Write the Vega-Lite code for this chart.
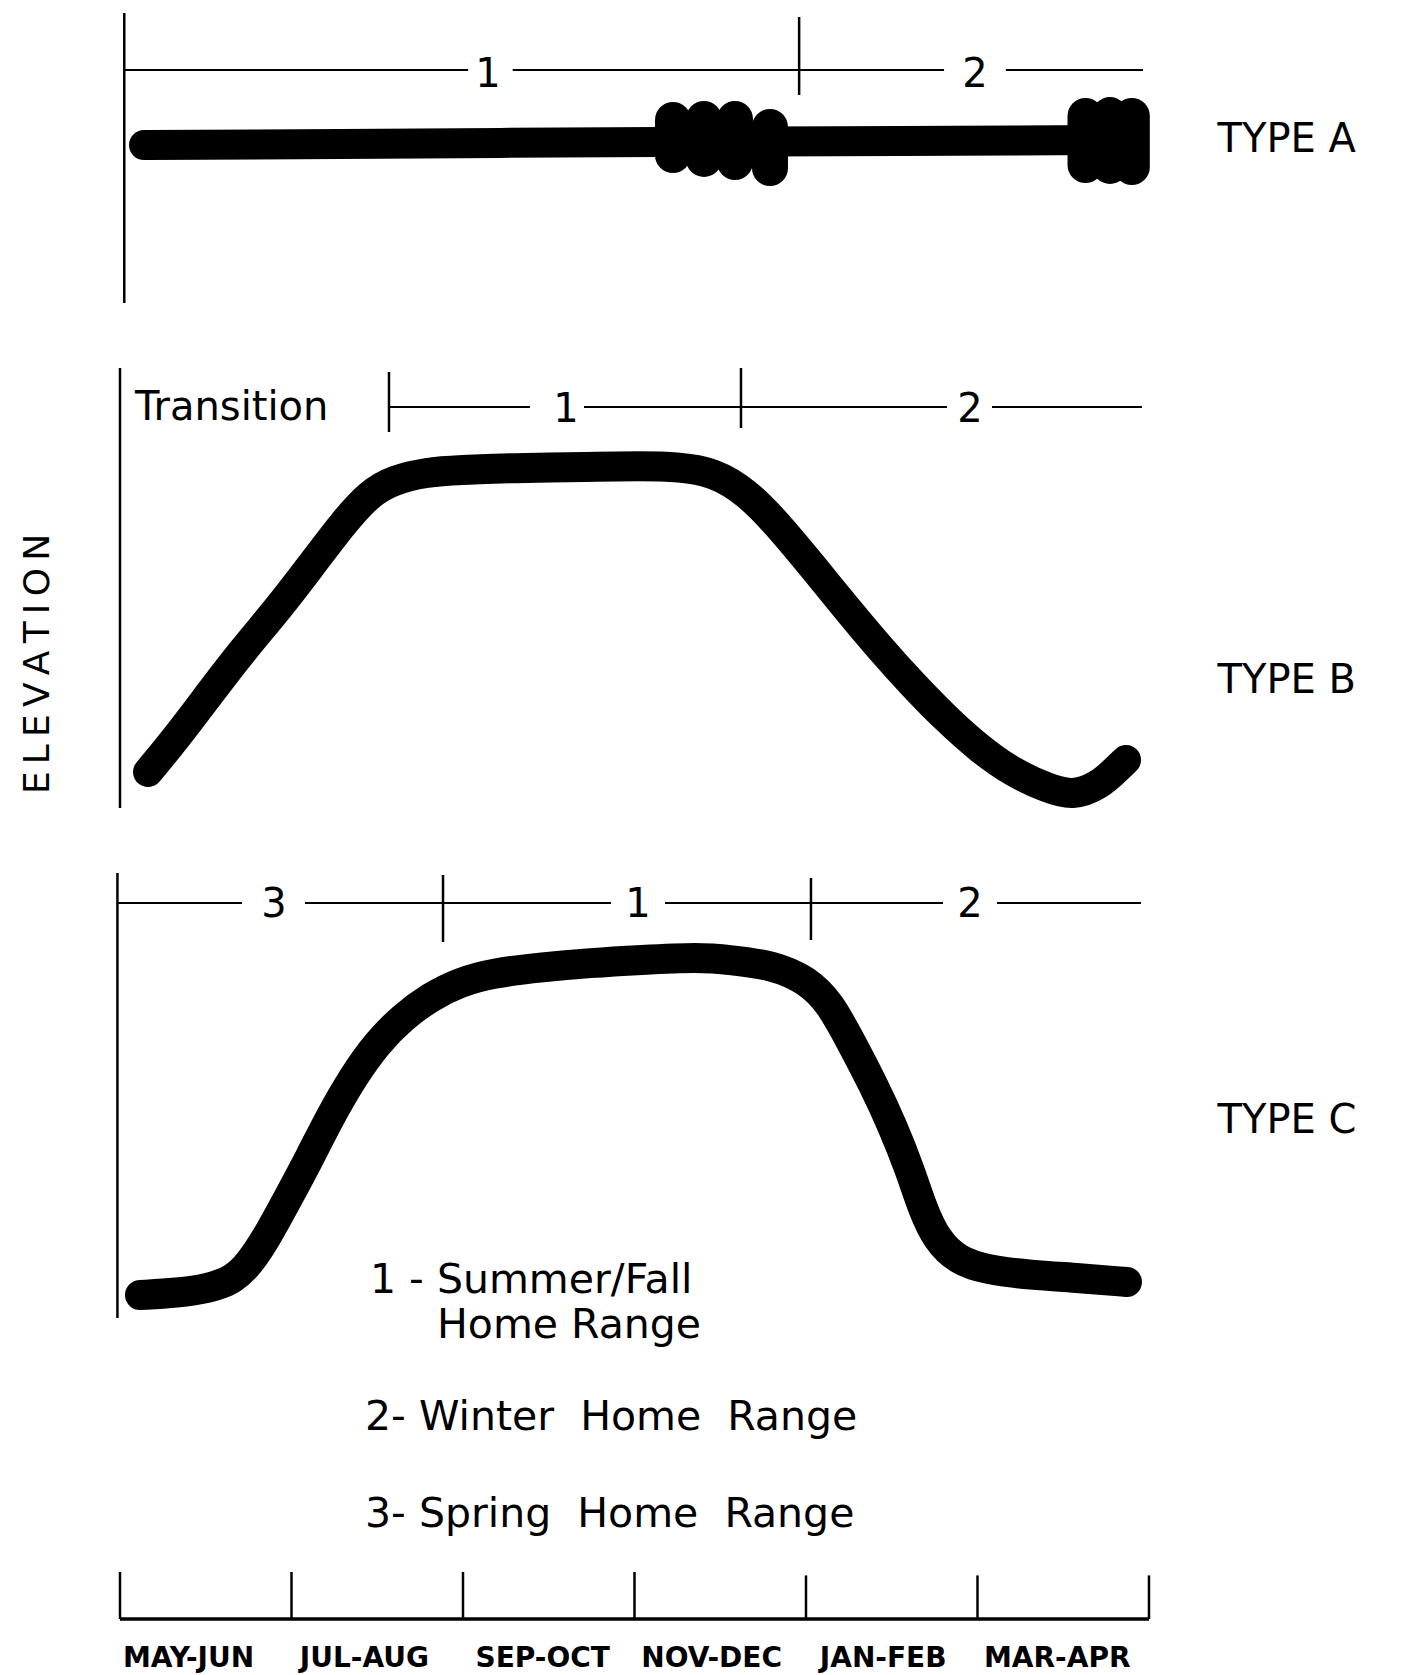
{
  "$schema": "https://vega.github.io/schema/vega-lite/v6.json",
  "padding": 0,
  "spacing": 0,
  "background": "white",
  "config": {"view": {"stroke": null}, "text": {"font": "DejaVu Sans", "color": "black"}},
  "datasets": {
    "typeA": [
      {"kind": "frame", "x": 0.05, "y": 96.06, "x2": 0.05, "y2": 8.18},
      {"kind": "frame", "x": 7.92, "y": 94.85, "x2": 7.92, "y2": 71.21},
      {"kind": "bracket", "x": 0.05, "y": 78.79, "x2": 4.06, "y2": 78.79},
      {"kind": "bracket", "x": 4.58, "y": 78.79, "x2": 9.61, "y2": 78.79},
      {"kind": "bracket", "x": 10.33, "y": 78.79, "x2": 11.93, "y2": 78.79},
      {"kind": "num", "x": 4.29, "y": 77.3, "label": "1"},
      {"kind": "num", "x": 9.97, "y": 77.3, "label": "2"},
      {"kind": "curve", "x": 0.28, "y": 56.06},
      {"kind": "curve", "x": 2.1, "y": 56.3},
      {"kind": "curve", "x": 4.43, "y": 56.7},
      {"kind": "curve", "x": 6.3, "y": 56.97},
      {"kind": "curve", "x": 9.1, "y": 57.27},
      {"kind": "curve", "x": 11.43, "y": 57.58},
      {"kind": "lobe", "x": 6.449, "y": 63.64, "x2": 6.449, "y2": 53.03},
      {"kind": "lobe", "x": 6.81, "y": 63.94, "x2": 6.81, "y2": 51.82},
      {"kind": "lobe", "x": 7.172, "y": 63.94, "x2": 7.172, "y2": 50.91},
      {"kind": "lobe", "x": 7.58, "y": 61.52, "x2": 7.58, "y2": 49.09},
      {"kind": "lobe", "x": 11.26, "y": 64.85, "x2": 11.26, "y2": 50.0},
      {"kind": "lobe", "x": 11.545, "y": 65.15, "x2": 11.545, "y2": 49.7},
      {"kind": "lobe", "x": 11.8, "y": 64.85, "x2": 11.8, "y2": 49.39},
      {"kind": "type", "x": 12.8, "y": 57.58, "label": "TYPE A"}
    ],
    "typeB": [
      {"kind": "frame", "x": 0, "y": 92.55, "x2": 0, "y2": 6.27},
      {"kind": "frame", "x": 3.137, "y": 91.76, "x2": 3.137, "y2": 80.0},
      {"kind": "frame", "x": 7.242, "y": 92.55, "x2": 7.242, "y2": 80.78},
      {"kind": "bracket", "x": 3.137, "y": 84.9, "x2": 4.781, "y2": 84.9},
      {"kind": "bracket", "x": 5.411, "y": 84.9, "x2": 9.644, "y2": 84.9},
      {"kind": "bracket", "x": 10.169, "y": 84.9, "x2": 11.918, "y2": 84.9},
      {"kind": "num", "x": 5.201, "y": 84.4, "label": "1"},
      {"kind": "num", "x": 9.913, "y": 84.4, "label": "2"},
      {"kind": "note", "x": 0.175, "y": 82.35, "label": "Transition"},
      {"kind": "elev", "x": -0.956, "y": 34.51, "label": "E\u2009L\u2009E\u2009V\u2009A\u2009T\u2009I\u2009O\u2009N"},
      {"kind": "curve", "x": 0.327, "y": 13.33},
      {"kind": "curve", "x": 0.665, "y": 20.2},
      {"kind": "curve", "x": 1.05, "y": 28.82},
      {"kind": "curve", "x": 1.434, "y": 37.25},
      {"kind": "curve", "x": 1.831, "y": 45.1},
      {"kind": "curve", "x": 2.216, "y": 53.53},
      {"kind": "curve", "x": 2.601, "y": 62.16},
      {"kind": "curve", "x": 2.915, "y": 68.04},
      {"kind": "curve", "x": 3.184, "y": 70.59},
      {"kind": "curve", "x": 3.58, "y": 72.16},
      {"kind": "curve", "x": 3.965, "y": 72.55},
      {"kind": "curve", "x": 4.548, "y": 72.94},
      {"kind": "curve", "x": 5.481, "y": 73.14},
      {"kind": "curve", "x": 6.064, "y": 73.33},
      {"kind": "curve", "x": 6.531, "y": 73.14},
      {"kind": "curve", "x": 6.915, "y": 72.16},
      {"kind": "curve", "x": 7.312, "y": 68.24},
      {"kind": "curve", "x": 7.697, "y": 61.37},
      {"kind": "curve", "x": 8.082, "y": 53.53},
      {"kind": "curve", "x": 8.478, "y": 45.3},
      {"kind": "curve", "x": 8.863, "y": 37.6},
      {"kind": "curve", "x": 9.248, "y": 30.4},
      {"kind": "curve", "x": 9.644, "y": 23.6},
      {"kind": "curve", "x": 10.029, "y": 17.8},
      {"kind": "curve", "x": 10.414, "y": 13.2},
      {"kind": "curve", "x": 10.81, "y": 10.2},
      {"kind": "curve", "x": 11.114, "y": 8.6},
      {"kind": "curve", "x": 11.429, "y": 10.8},
      {"kind": "curve", "x": 11.627, "y": 14.0},
      {"kind": "curve", "x": 11.732, "y": 15.69},
      {"kind": "type", "x": 12.8, "y": 31.18, "label": "TYPE B"}
    ],
    "typeC": [
      {"kind": "frame", "x": -0.03, "y": 95.38, "x2": -0.03, "y2": 33.15},
      {"kind": "frame", "x": 3.767, "y": 95.1, "x2": 3.767, "y2": 85.73},
      {"kind": "frame", "x": 8.058, "y": 94.69, "x2": 8.058, "y2": 86.01},
      {"kind": "bracket", "x": -0.03, "y": 91.19, "x2": 1.423, "y2": 91.19},
      {"kind": "bracket", "x": 2.157, "y": 91.19, "x2": 5.726, "y2": 91.19},
      {"kind": "bracket", "x": 6.356, "y": 91.19, "x2": 9.598, "y2": 91.19},
      {"kind": "bracket", "x": 10.227, "y": 91.19, "x2": 11.907, "y2": 91.19},
      {"kind": "num", "x": 1.796, "y": 90.91, "label": "3"},
      {"kind": "num", "x": 6.041, "y": 90.91, "label": "1"},
      {"kind": "num", "x": 9.913, "y": 90.91, "label": "2"},
      {"kind": "curve", "x": 0.233, "y": 36.36},
      {"kind": "curve", "x": 0.665, "y": 36.64},
      {"kind": "curve", "x": 1.05, "y": 37.34},
      {"kind": "curve", "x": 1.318, "y": 38.46},
      {"kind": "curve", "x": 1.516, "y": 40.84},
      {"kind": "curve", "x": 1.714, "y": 44.48},
      {"kind": "curve", "x": 1.948, "y": 49.65},
      {"kind": "curve", "x": 2.216, "y": 55.66},
      {"kind": "curve", "x": 2.449, "y": 61.26},
      {"kind": "curve", "x": 2.717, "y": 66.85},
      {"kind": "curve", "x": 2.997, "y": 71.61},
      {"kind": "curve", "x": 3.3, "y": 75.24},
      {"kind": "curve", "x": 3.615, "y": 78.04},
      {"kind": "curve", "x": 3.965, "y": 80.14},
      {"kind": "curve", "x": 4.35, "y": 81.4},
      {"kind": "curve", "x": 4.933, "y": 82.24},
      {"kind": "curve", "x": 5.481, "y": 82.8},
      {"kind": "curve", "x": 6.064, "y": 83.22},
      {"kind": "curve", "x": 6.764, "y": 83.64},
      {"kind": "curve", "x": 7.114, "y": 83.22},
      {"kind": "curve", "x": 7.615, "y": 82.52},
      {"kind": "curve", "x": 8.012, "y": 80.42},
      {"kind": "curve", "x": 8.28, "y": 77.2},
      {"kind": "curve", "x": 8.513, "y": 72.03},
      {"kind": "curve", "x": 8.781, "y": 65.9},
      {"kind": "curve", "x": 9.015, "y": 59.86},
      {"kind": "curve", "x": 9.213, "y": 53.85},
      {"kind": "curve", "x": 9.364, "y": 48.25},
      {"kind": "curve", "x": 9.528, "y": 44.06},
      {"kind": "curve", "x": 9.761, "y": 41.26},
      {"kind": "curve", "x": 10.111, "y": 39.86},
      {"kind": "curve", "x": 10.612, "y": 39.16},
      {"kind": "curve", "x": 11.195, "y": 38.74},
      {"kind": "curve", "x": 11.743, "y": 38.18},
      {"kind": "type", "x": 12.8, "y": 60.7, "label": "TYPE C"},
      {"kind": "note", "x": 2.915, "y": 36.64, "label": "1 - Summer/Fall"},
      {"kind": "note", "x": 3.697, "y": 30.35, "label": "Home Range"},
      {"kind": "note", "x": 2.857, "y": 17.48, "label": "2-\u00a0Winter\u00a0\u00a0Home\u00a0\u00a0Range"},
      {"kind": "note", "x": 2.857, "y": 3.92, "label": "3-\u00a0Spring\u00a0\u00a0Home\u00a0\u00a0Range"}
    ],
    "months": [
      {"kind": "axis", "x": 0, "y": 46.67, "x2": 12, "y2": 46.67},
      {"kind": "frame", "x": 0, "y": 85.83, "x2": 0, "y2": 46.67},
      {"kind": "frame", "x": 2, "y": 85.83, "x2": 2, "y2": 46.67},
      {"kind": "frame", "x": 4, "y": 85.83, "x2": 4, "y2": 46.67},
      {"kind": "frame", "x": 6, "y": 85.83, "x2": 6, "y2": 46.67},
      {"kind": "frame", "x": 8, "y": 83.0, "x2": 8, "y2": 46.67},
      {"kind": "frame", "x": 10, "y": 83.0, "x2": 10, "y2": 46.67},
      {"kind": "frame", "x": 12, "y": 83.0, "x2": 12, "y2": 46.67},
      {"kind": "month", "x": 0.8, "y": 6.67, "label": "MAY-JUN"},
      {"kind": "month", "x": 2.85, "y": 6.67, "label": "JUL-AUG"},
      {"kind": "month", "x": 4.93, "y": 6.67, "label": "SEP-OCT"},
      {"kind": "month", "x": 6.9, "y": 6.67, "label": "NOV-DEC"},
      {"kind": "month", "x": 8.9, "y": 6.67, "label": "JAN-FEB"},
      {"kind": "month", "x": 10.93, "y": 6.67, "label": "MAR-APR"}
    ]
  },
  "vconcat": [
    {
      "width": 1401,
      "height": 330,
      "data": {"name": "typeA"},
      "encoding": {
        "x": {"field": "x", "type": "quantitative", "scale": {"domain": [-1.3994, 14.939], "nice": false, "zero": false}, "axis": null},
        "y": {"field": "y", "type": "quantitative", "scale": {"domain": [0, 100], "nice": false, "zero": false}, "axis": null}
      },
      "layer": [
        {"transform": [{"filter": "datum.kind === 'frame'"}], "mark": {"type": "rule", "color": "black", "strokeWidth": 2.5}, "encoding": {"x2": {"field": "x2"}, "y2": {"field": "y2"}}},
        {"transform": [{"filter": "datum.kind === 'bracket'"}], "mark": {"type": "rule", "color": "black", "strokeWidth": 2}, "encoding": {"x2": {"field": "x2"}, "y2": {"field": "y2"}}},
        {"transform": [{"filter": "datum.kind === 'curve'"}], "mark": {"type": "line", "color": "black", "strokeWidth": 30, "strokeCap": "round", "strokeJoin": "round", "interpolate": "monotone"}},
        {"transform": [{"filter": "datum.kind === 'lobe'"}], "mark": {"type": "rule", "color": "black", "strokeWidth": 36, "strokeCap": "round"}, "encoding": {"x2": {"field": "x2"}, "y2": {"field": "y2"}}},
        {"transform": [{"filter": "datum.kind === 'num'"}], "mark": {"type": "text", "fontSize": 40, "align": "center", "baseline": "middle"}, "encoding": {"text": {"field": "label"}}},
        {"transform": [{"filter": "datum.kind === 'type'"}], "mark": {"type": "text", "fontSize": 40, "align": "left", "baseline": "middle"}, "encoding": {"text": {"field": "label"}}}
      ]
    },
    {
      "width": 1401,
      "height": 510,
      "data": {"name": "typeB"},
      "encoding": {
        "x": {"field": "x", "type": "quantitative", "scale": {"domain": [-1.3994, 14.939], "nice": false, "zero": false}, "axis": null},
        "y": {"field": "y", "type": "quantitative", "scale": {"domain": [0, 100], "nice": false, "zero": false}, "axis": null}
      },
      "layer": [
        {"transform": [{"filter": "datum.kind === 'frame'"}], "mark": {"type": "rule", "color": "black", "strokeWidth": 2.5}, "encoding": {"x2": {"field": "x2"}, "y2": {"field": "y2"}}},
        {"transform": [{"filter": "datum.kind === 'bracket'"}], "mark": {"type": "rule", "color": "black", "strokeWidth": 2}, "encoding": {"x2": {"field": "x2"}, "y2": {"field": "y2"}}},
        {"transform": [{"filter": "datum.kind === 'curve'"}], "mark": {"type": "line", "color": "black", "strokeWidth": 30, "strokeCap": "round", "strokeJoin": "round", "interpolate": "basis"}},
        {"transform": [{"filter": "datum.kind === 'num'"}], "mark": {"type": "text", "fontSize": 40, "align": "center", "baseline": "middle"}, "encoding": {"text": {"field": "label"}}},
        {"transform": [{"filter": "datum.kind === 'note'"}], "mark": {"type": "text", "fontSize": 40, "align": "left", "baseline": "alphabetic"}, "encoding": {"text": {"field": "label"}}},
        {"transform": [{"filter": "datum.kind === 'elev'"}], "mark": {"type": "text", "fontSize": 36, "align": "center", "baseline": "middle", "angle": 270}, "encoding": {"text": {"field": "label"}}},
        {"transform": [{"filter": "datum.kind === 'type'"}], "mark": {"type": "text", "fontSize": 40, "align": "left", "baseline": "middle"}, "encoding": {"text": {"field": "label"}}}
      ]
    },
    {
      "width": 1401,
      "height": 715,
      "data": {"name": "typeC"},
      "encoding": {
        "x": {"field": "x", "type": "quantitative", "scale": {"domain": [-1.3994, 14.939], "nice": false, "zero": false}, "axis": null},
        "y": {"field": "y", "type": "quantitative", "scale": {"domain": [0, 100], "nice": false, "zero": false}, "axis": null}
      },
      "layer": [
        {"transform": [{"filter": "datum.kind === 'frame'"}], "mark": {"type": "rule", "color": "black", "strokeWidth": 2.5}, "encoding": {"x2": {"field": "x2"}, "y2": {"field": "y2"}}},
        {"transform": [{"filter": "datum.kind === 'bracket'"}], "mark": {"type": "rule", "color": "black", "strokeWidth": 2}, "encoding": {"x2": {"field": "x2"}, "y2": {"field": "y2"}}},
        {"transform": [{"filter": "datum.kind === 'curve'"}], "mark": {"type": "line", "color": "black", "strokeWidth": 30, "strokeCap": "round", "strokeJoin": "round", "interpolate": "basis"}},
        {"transform": [{"filter": "datum.kind === 'num'"}], "mark": {"type": "text", "fontSize": 40, "align": "center", "baseline": "middle"}, "encoding": {"text": {"field": "label"}}},
        {"transform": [{"filter": "datum.kind === 'note'"}], "mark": {"type": "text", "fontSize": 41, "align": "left", "baseline": "alphabetic"}, "encoding": {"text": {"field": "label"}}},
        {"transform": [{"filter": "datum.kind === 'type'"}], "mark": {"type": "text", "fontSize": 40, "align": "left", "baseline": "middle"}, "encoding": {"text": {"field": "label"}}}
      ]
    },
    {
      "width": 1401,
      "height": 120,
      "data": {"name": "months"},
      "encoding": {
        "x": {"field": "x", "type": "quantitative", "scale": {"domain": [-1.3994, 14.939], "nice": false, "zero": false}, "axis": null},
        "y": {"field": "y", "type": "quantitative", "scale": {"domain": [0, 100], "nice": false, "zero": false}, "axis": null}
      },
      "layer": [
        {"transform": [{"filter": "datum.kind === 'axis'"}], "mark": {"type": "rule", "color": "black", "strokeWidth": 3.5}, "encoding": {"x2": {"field": "x2"}, "y2": {"field": "y2"}}},
        {"transform": [{"filter": "datum.kind === 'frame'"}], "mark": {"type": "rule", "color": "black", "strokeWidth": 2.5}, "encoding": {"x2": {"field": "x2"}, "y2": {"field": "y2"}}},
        {"transform": [{"filter": "datum.kind === 'month'"}], "mark": {"type": "text", "fontSize": 28, "fontWeight": "bold", "align": "center", "baseline": "alphabetic"}, "encoding": {"text": {"field": "label"}}}
      ]
    }
  ]
}
